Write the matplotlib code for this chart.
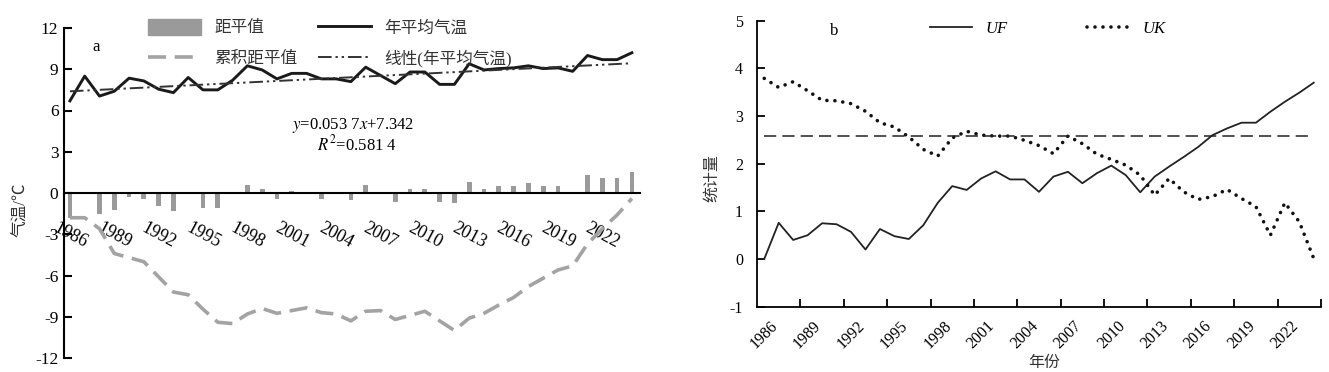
import matplotlib
matplotlib.use('Agg')
import matplotlib.pyplot as plt
from matplotlib.patches import Patch
from matplotlib.lines import Line2D
import numpy as np

plt.rcParams['font.family'] = ['Liberation Serif', 'Noto Sans CJK SC']
plt.rcParams['mathtext.fontset'] = 'stix'
plt.rcParams['axes.unicode_minus'] = False

# dane
lata = list(range(1986, 2025))
temp_srednia = [6.7, 8.5, 7.05, 7.4, 8.35, 8.15, 7.55, 7.3, 8.4, 7.5,
                7.5, 8.2, 9.25, 8.95, 8.3, 8.7, 8.7, 8.3, 8.3, 8.1,
                9.15, 8.55, 7.95, 8.8, 8.8, 7.9, 7.9, 9.4, 8.95, 9.05,
                9.1, 9.25, 9.05, 9.1, 8.85, 10.0, 9.7, 9.7, 10.2]
anomalia = [-1.85, -0.08, -1.55, -1.2, -0.3, -0.4, -0.95, -1.3, -0.1, -1.1,
            -1.1, -0.1, 0.6, 0.27, -0.4, 0.12, 0.1, -0.4, -0.05, -0.48,
            0.6, 0.1, -0.65, 0.27, 0.27, -0.65, -0.72, 0.8, 0.27, 0.48,
            0.48, 0.72, 0.48, 0.48, 0.1, 1.28, 1.09, 1.09, 1.52]
skumulowana = [-1.8, -1.8, -2.6, -4.4, -4.7, -5.0, -6.1, -7.2, -7.4, -8.45,
               -9.4, -9.5, -8.8, -8.4, -8.75, -8.55, -8.35, -8.7, -8.8, -9.3,
               -8.6, -8.55, -9.2, -8.9, -8.6, -9.3, -10.0, -9.1, -8.75, -8.15,
               -7.6, -6.8, -6.2, -5.6, -5.3, -3.7, -2.6, -1.6, -0.4]
trend_a = 0.0537
trend_b = 7.342
uf = [0, 0.76, 0.40, 0.50, 0.75, 0.73, 0.57, 0.20, 0.63, 0.48,
      0.42, 0.71, 1.18, 1.53, 1.45, 1.69, 1.84, 1.67, 1.67, 1.41,
      1.73, 1.83, 1.59, 1.80, 1.96, 1.76, 1.40, 1.73, 1.94, 2.14,
      2.35, 2.60, 2.74, 2.86, 2.86, 3.09, 3.30, 3.49, 3.70]
uk = [3.79, 3.60, 3.72, 3.53, 3.33, 3.32, 3.26, 3.10, 2.86, 2.77,
      2.56, 2.30, 2.16, 2.54, 2.68, 2.60, 2.58, 2.58, 2.49, 2.38,
      2.21, 2.58, 2.42, 2.20, 2.09, 1.97, 1.76, 1.34, 1.69, 1.41,
      1.25, 1.31, 1.46, 1.27, 1.10, 0.50, 1.18, 0.78, 0.01]
prog = 2.58

W, H = 1329, 372
fig = plt.figure(figsize=(W / 100, H / 100), dpi=100)

x = np.arange(len(lata))
etykiety_idx = x[::3]
etykiety = [str(lata[i]) for i in etykiety_idx]
cjk = ['Liberation Serif', 'Noto Sans CJK SC']

# ---- wykres a ----
ax = fig.add_axes([64 / W, 1 - 358 / H, 576 / W, 330 / H])
szary = '#a3a3a3'
ax.bar(x, anomalia, width=0.32, color='#9a9a9a', zorder=2)
ax.plot(x, skumulowana, color=szary, lw=2.6, dashes=(5, 2.4), zorder=3)
ax.plot(x, temp_srednia, color='#1a1a1a', lw=2.1, zorder=4)
trend = trend_a * (x + 1) + trend_b
ax.plot(x, trend, color='#333333', lw=1.4, dashes=(7, 2, 1.2, 2, 1.2, 2), zorder=5)

ax.set_xlim(-0.4, 38.55)
ax.set_ylim(-12, 12)
ax.set_yticks(np.arange(-12, 13, 3))
ax.spines['top'].set_visible(False)
ax.spines['right'].set_visible(False)
ax.spines['bottom'].set_position(('data', 0))
ax.spines['left'].set_linewidth(1.5)
ax.spines['bottom'].set_linewidth(1.5)
ax.tick_params(axis='y', direction='in', length=6, width=1.5, labelsize=12.5, pad=4)
ax.set_xticks(etykiety_idx)
ax.set_xticklabels(etykiety, rotation=-28, fontsize=13)
ax.tick_params(axis='x', length=0, pad=19)
ax.set_ylabel('气温/℃', fontsize=12, family=cjk, color='#333333')
ax.yaxis.set_label_coords(-0.06, 0.45)

ax.text(0.05, 0.93, 'a', transform=ax.transAxes, fontsize=12)
ax.text(0.395, 0.695, '$y$=0.053 7$x$+7.342', transform=ax.transAxes, fontsize=12)
ax.text(0.44, 0.63, '$R^2$=0.581 4', transform=ax.transAxes, fontsize=12)

uchwyty = [Patch(color='#9a9a9a'),
           Line2D([], [], color=szary, lw=2.6, dashes=(5, 2.4)),
           Line2D([], [], color='#1a1a1a', lw=2.1),
           Line2D([], [], color='#333333', lw=1.4, dashes=(7, 2, 1.2, 2, 1.2, 2))]
opisy = ['距平值', '累积距平值', '年平均气温', '线性(年平均气温)']
leg = ax.legend(uchwyty, opisy, ncol=2, frameon=False, loc='upper left',
                bbox_to_anchor=(133 / W, 0.99), bbox_transform=fig.transFigure,
                prop={'family': cjk, 'size': 12}, handlelength=3.2,
                handleheight=1.1, columnspacing=1.2, labelspacing=0.8)
for t in leg.get_texts():
    t.set_color('#333333')

# ---- wykres b ----
bx = fig.add_axes([757 / W, 1 - 306.7 / H, 564 / W, 286 / H])
bx.plot(x, uf, color='#222222', lw=1.3, label='UF')
bx.plot(x, uk, color='#111111', lw=2.6, linestyle=(0, (0.01, 2.2)),
        dash_capstyle='round', label='UK')
bx.axhline(prog, xmin=0.5 / 39, xmax=38.5 / 39, color='#222222', lw=1.1, dashes=(8, 4))

bx.set_xlim(-0.5, 38.5)
bx.set_ylim(-1, 5)
bx.set_yticks(np.arange(-1, 6, 1))
bx.spines['top'].set_visible(False)
bx.spines['right'].set_visible(False)
bx.spines['left'].set_linewidth(1.3)
bx.spines['bottom'].set_linewidth(1.3)
bx.tick_params(axis='y', direction='in', length=6, width=1.3, labelsize=11.5, pad=10)
bx.set_xticks(np.arange(2.5, 39, 3))
bx.set_xticklabels([])
bx.tick_params(axis='x', which='major', direction='in', length=6, width=1.3)
bx.set_xticks(etykiety_idx, minor=True)
bx.set_xticklabels(etykiety, minor=True, rotation=45, fontsize=11.5)
bx.tick_params(axis='x', which='minor', length=0, pad=8)
bx.set_ylabel('统计量', fontsize=11.5, family=cjk, color='#333333')
bx.yaxis.set_label_coords(-0.065, 0.45)
bx.set_xlabel('年份', fontsize=11.5, family=cjk, color='#333333', labelpad=0)
bx.xaxis.set_label_coords(0.51, -0.17)

bx.text(0.13, 0.95, 'b', transform=bx.transAxes, fontsize=12)
bx.legend(ncol=2, frameon=False, loc='upper left', bbox_to_anchor=(915 / W, 0.985),
          bbox_transform=fig.transFigure, prop={'style': 'italic', 'size': 12},
          handlelength=2.5, columnspacing=4.8)

fig.savefig('out.png', dpi=100)
